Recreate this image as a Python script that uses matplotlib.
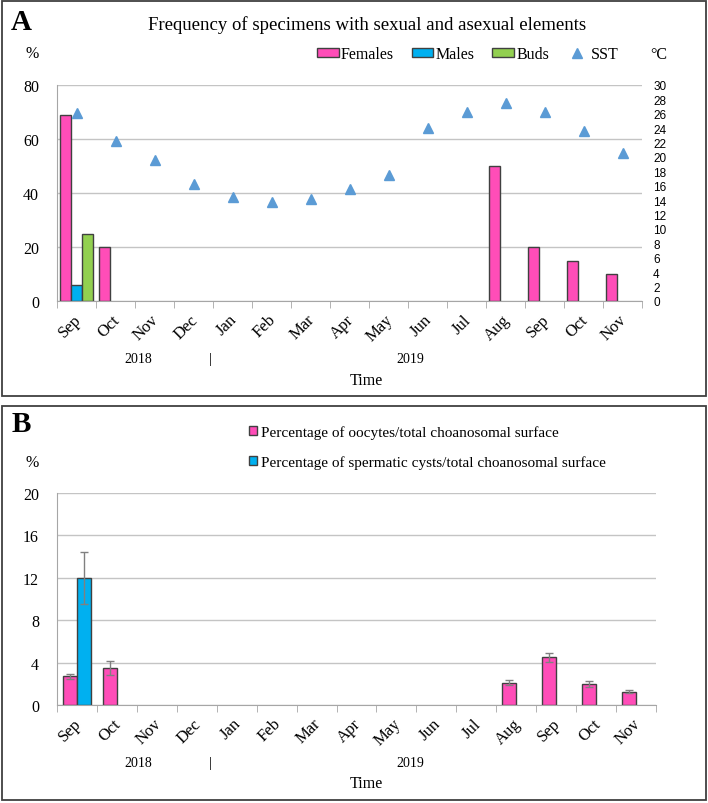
import matplotlib
matplotlib.use('Agg')
import matplotlib.pyplot as plt
import numpy as np
from matplotlib.patches import Rectangle, Patch
from matplotlib.lines import Line2D
from matplotlib.transforms import ScaledTranslation

# ---------------- data ----------------
months = ['Sep', 'Oct', 'Nov', 'Dec', 'Jan', 'Feb', 'Mar', 'Apr', 'May',
          'Jun', 'Jul', 'Aug', 'Sep', 'Oct', 'Nov']
females = [69, 20, 0, 0, 0, 0, 0, 0, 0, 0, 0, 50, 20, 15, 10]
males = [6, 0, 0, 0, 0, 0, 0, 0, 0, 0, 0, 0, 0, 0, 0]
buds = [25, 0, 0, 0, 0, 0, 0, 0, 0, 0, 0, 0, 0, 0, 0]
sst = [26.1, 22.2, 19.6, 16.2, 14.5, 13.7, 14.2, 15.5, 17.5, 24.0, 26.3, 27.5, 26.2, 23.6, 20.6]

oocytes = [2.7, 3.5, 0, 0, 0, 0, 0, 0, 0, 0, 0, 2.1, 4.5, 2.0, 1.25]
oocytes_err = [0.25, 0.65, 0, 0, 0, 0, 0, 0, 0, 0, 0, 0.25, 0.45, 0.3, 0.15]
cysts = [12, 0, 0, 0, 0, 0, 0, 0, 0, 0, 0, 0, 0, 0, 0]
cysts_err = [2.45, 0, 0, 0, 0, 0, 0, 0, 0, 0, 0, 0, 0, 0, 0]

left_ticks_a = [0, 20, 40, 60, 80]
right_ticks_a = list(range(0, 31, 2))
left_ticks_b = [0, 4, 8, 12, 16, 20]

PINK = '#FF4DB8'
BLUE = '#00B0F0'
GREEN = '#92D050'
TRI = '#5B9BD5'
EDGE = '#404040'
GRID = '#C4C4C4'
AXC = '#A6A6A6'

plt.rcParams['font.family'] = ['Liberation Serif', 'DejaVu Serif']

W, H = 708, 804
fig = plt.figure(figsize=(W / 100, H / 100), dpi=100)


def fx(px):
    return px / W


def fy(py):
    return 1 - py / H


def nz(vals):
    idx = np.array([i for i, v in enumerate(vals) if v != 0])
    return idx, np.array([vals[i] for i in idx])


def style_axes(ax, n):
    ax.set_xlim(-0.5, n - 0.5)
    ax.set_axisbelow(True)
    ax.yaxis.grid(True, color=GRID, lw=1)
    for s in ['top', 'right']:
        ax.spines[s].set_visible(False)
    ax.spines['left'].set_color(AXC)
    ax.spines['bottom'].set_color(AXC)
    ax.set_xticks(np.arange(n))
    ax.set_xticks(np.arange(n + 1) - 0.5, minor=True)
    ax.tick_params(axis='x', which='minor', length=5, color=AXC, direction='out')
    ax.tick_params(axis='x', which='major', length=0, pad=11.5, labelsize=12)
    ax.tick_params(axis='y', length=0, pad=13, labelsize=11.5)
    ax.set_xticklabels(months, rotation=45, ha='right', va='center',
                       rotation_mode='anchor')
    off = ScaledTranslation(2 / 100, 0, fig.dpi_scale_trans)
    for lab in ax.get_xticklabels():
        lab.set_transform(lab.get_transform() + off)


n = len(months)
x = np.arange(n)

# ---------------- Panel A ----------------
ax1 = fig.add_axes([fx(57), fy(302), (642 - 57) / W, (302 - 86) / H])
w = 0.28
i, v = nz(females)
ax1.bar(i - w, v, w, color=PINK, edgecolor=EDGE, lw=1, label='Females')
i, v = nz(males)
ax1.bar(i, v, w, color=BLUE, edgecolor=EDGE, lw=1, label='Males')
i, v = nz(buds)
ax1.bar(i + w, v, w, color=GREEN, edgecolor=EDGE, lw=1, label='Buds')
ax1.set_ylim(0, 80)
ax1.set_yticks(left_ticks_a)
style_axes(ax1, n)

ax2 = ax1.twinx()
ax2.plot(x, sst, ls='none', marker='^', ms=7.5, color=TRI, mec=TRI)
ax2.set_ylim(0, 30)
ax2.set_yticks(right_ticks_a)
ax2.tick_params(axis='y', length=0, pad=8)
for lab in ax2.get_yticklabels():
    lab.set_fontfamily('Liberation Sans')
    lab.set_fontsize(8.5)
for s in ['top', 'right', 'left', 'bottom']:
    ax2.spines[s].set_visible(False)

handles = [Patch(facecolor=PINK, edgecolor=EDGE, lw=1),
           Patch(facecolor=BLUE, edgecolor=EDGE, lw=1),
           Patch(facecolor=GREEN, edgecolor=EDGE, lw=1),
           Line2D([], [], ls='none', marker='^', ms=7.5, color=TRI)]
fig.legend(handles, ['Females', 'Males', 'Buds', 'SST'], ncol=4,
           loc='center left', bbox_to_anchor=(fx(317), fy(55)),
           frameon=False, fontsize=11.5, handlelength=1.35, handleheight=0.45,
           handletextpad=0.15, columnspacing=1.1, borderpad=0, borderaxespad=0)

fig.text(fx(21), fy(22), 'A', fontsize=21, fontweight='bold', ha='center', va='center')
fig.text(fx(367), fy(25), 'Frequency of specimens with sexual and asexual elements',
         fontsize=13.5, ha='center', va='center')
fig.text(fx(32), fy(54), '%', fontsize=11.5, ha='center', va='center')
fig.text(fx(659), fy(55), '°C', fontsize=11.5, ha='center', va='center')
fig.text(fx(138), fy(360), '2018', fontsize=10, ha='center', va='center')
fig.text(fx(210), fy(360), '|', fontsize=10, ha='center', va='center')
fig.text(fx(410), fy(360), '2019', fontsize=10, ha='center', va='center')
fig.text(fx(366), fy(381), 'Time', fontsize=11.5, ha='center', va='center')

# ---------------- Panel B ----------------
ax3 = fig.add_axes([fx(57), fy(706), (656 - 57) / W, (706 - 494) / H])
wb = 0.35
i, v = nz(oocytes)
e = np.array([oocytes_err[k] for k in i])
ax3.bar(i - wb / 2, v, wb, color=PINK, edgecolor=EDGE, lw=1)
ax3.errorbar(i - wb / 2, v, yerr=e, fmt='none', ecolor='#808080', elinewidth=1,
             capsize=3, capthick=1)
i, v = nz(cysts)
e = np.array([cysts_err[k] for k in i])
ax3.bar(i + wb / 2, v, wb, color=BLUE, edgecolor=EDGE, lw=1)
ax3.errorbar(i + wb / 2, v, yerr=e, fmt='none', ecolor='#808080', elinewidth=1,
             capsize=3, capthick=1)
ax3.set_ylim(0, 20)
ax3.set_yticks(left_ticks_b)
style_axes(ax3, n)

hb = [Patch(facecolor=PINK, edgecolor=EDGE, lw=1),
      Patch(facecolor=BLUE, edgecolor=EDGE, lw=1)]
fig.legend(hb, ['Percentage of oocytes/total choanosomal surface',
                'Percentage of spermatic cysts/total choanosomal surface'],
           loc='upper left', bbox_to_anchor=(fx(249), fy(426)), frameon=False,
           fontsize=11, handlelength=0.5, handleheight=0.5, handletextpad=0.3,
           labelspacing=1.05, borderpad=0, borderaxespad=0)

fig.text(fx(21), fy(425), 'B', fontsize=21, fontweight='bold', ha='center', va='center')
fig.text(fx(32), fy(463), '%', fontsize=11.5, ha='center', va='center')
fig.text(fx(138), fy(764), '2018', fontsize=10, ha='center', va='center')
fig.text(fx(210), fy(764), '|', fontsize=10, ha='center', va='center')
fig.text(fx(410), fy(764), '2019', fontsize=10, ha='center', va='center')
fig.text(fx(366), fy(784), 'Time', fontsize=11.5, ha='center', va='center')

# panel frames
fig.add_artist(Rectangle((fx(2), fy(397)), fx(704), (397 - 2) / H,
                         transform=fig.transFigure, fill=False, ec=EDGE, lw=1.3))
fig.add_artist(Rectangle((fx(2), fy(801)), fx(704), (801 - 407) / H,
                         transform=fig.transFigure, fill=False, ec=EDGE, lw=1.3))

fig.savefig('out.png', dpi=100)
